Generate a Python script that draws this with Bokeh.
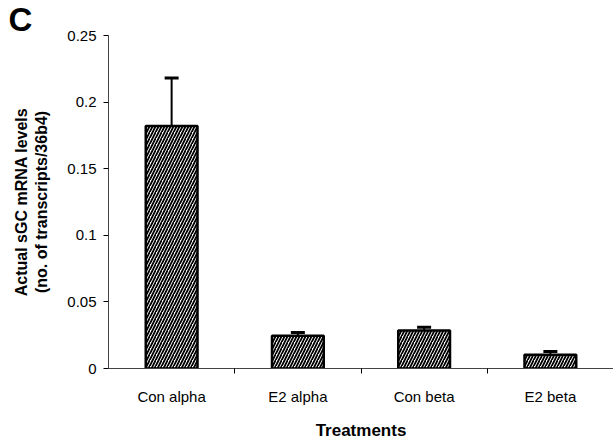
from bokeh.plotting import figure
from bokeh.models import ColumnDataSource, Range1d, FixedTicker, Whisker, TeeHead, Title
from bokeh.embed import file_html
from bokeh.resources import INLINE

categories = ["Con alpha", "E2 alpha", "Con beta", "E2 beta"]
means = [0.182, 0.0245, 0.0285, 0.0103]
errors = [0.036, 0.0025, 0.0025, 0.0025]
y_ticks = [0, 0.05, 0.1, 0.15, 0.2, 0.25]
y_tick_labels = ["0", "0.05", "0.1", "0.15", "0.2", "0.25"]

xs = [i + 0.5 for i in range(len(categories))]
src = ColumnDataSource(dict(x=xs, top=means,
                            upper=[m + e for m, e in zip(means, errors)]))

FONT = "Liberation Sans"

p = figure(width=613, height=442, output_backend="svg", toolbar_location=None,
           x_range=Range1d(0, len(categories)), y_range=Range1d(0, 0.25),
           min_border_left=108, min_border_top=34, min_border_right=0,
           min_border_bottom=70)
p.outline_line_color = None
p.grid.visible = False
p.background_fill_color = "white"
p.border_fill_color = "white"

p.vbar(x="x", top="top", width=0.41, source=src, fill_color="white",
       line_color="black", line_width=2.5,
       hatch_pattern="right_diagonal_line", hatch_color="black",
       hatch_scale=6, hatch_weight=1.8)

w = Whisker(base="x", lower="top", upper="upper", source=src,
            line_color="black", line_width=2,
            upper_head=TeeHead(size=14, line_width=3, line_color="black"),
            lower_head=None)
p.add_layout(w)

# x axis
p.xaxis.ticker = FixedTicker(ticks=xs, minor_ticks=[1, 2, 3])
p.xaxis.major_label_overrides = {x: c for x, c in zip(xs, categories)}
p.xaxis.major_tick_out = 0
p.xaxis.major_tick_in = 0
p.xaxis.minor_tick_out = 5
p.xaxis.minor_tick_in = 0
p.xaxis.minor_tick_line_color = "black"
p.xaxis.axis_line_color = "#444444"
p.xaxis.axis_line_width = 1.2
p.xaxis.major_label_standoff = 14
p.xaxis.major_label_text_font = FONT
p.xaxis.major_label_text_font_size = "15px"
p.xaxis.major_label_text_color = "black"
p.xaxis.axis_label = "Treatments"
p.xaxis.axis_label_text_font = FONT
p.xaxis.axis_label_text_font_style = "bold"
p.xaxis.axis_label_text_font_size = "17px"
p.xaxis.axis_label_text_color = "black"
p.xaxis.axis_label_standoff = 13

# y axis
p.yaxis.ticker = FixedTicker(ticks=y_ticks, minor_ticks=[])
p.yaxis.major_label_overrides = {t: l for t, l in zip(y_ticks, y_tick_labels)}
p.yaxis.major_tick_out = 5
p.yaxis.major_tick_in = 0
p.yaxis.axis_line_color = "#444444"
p.yaxis.axis_line_width = 1
p.yaxis.major_label_standoff = 7
p.yaxis.major_label_text_font = FONT
p.yaxis.major_label_text_font_size = "15px"
p.yaxis.major_label_text_color = "black"
p.yaxis.axis_label = "Actual sGC mRNA levels\n(no. of transcripts/36b4)"
p.yaxis.axis_label_text_font = FONT
p.yaxis.axis_label_text_font_style = "bold"
p.yaxis.axis_label_text_font_size = "16px"
p.yaxis.axis_label_text_color = "black"
p.yaxis.axis_label_standoff = 14

t = Title(text="C", align="left", offset=-100, standoff=-4,
          text_font=FONT, text_font_style="bold", text_font_size="33px",
          text_line_height=0.8, text_color="black")
p.add_layout(t, "above")

open("out.html", "w").write(file_html(p, INLINE))
